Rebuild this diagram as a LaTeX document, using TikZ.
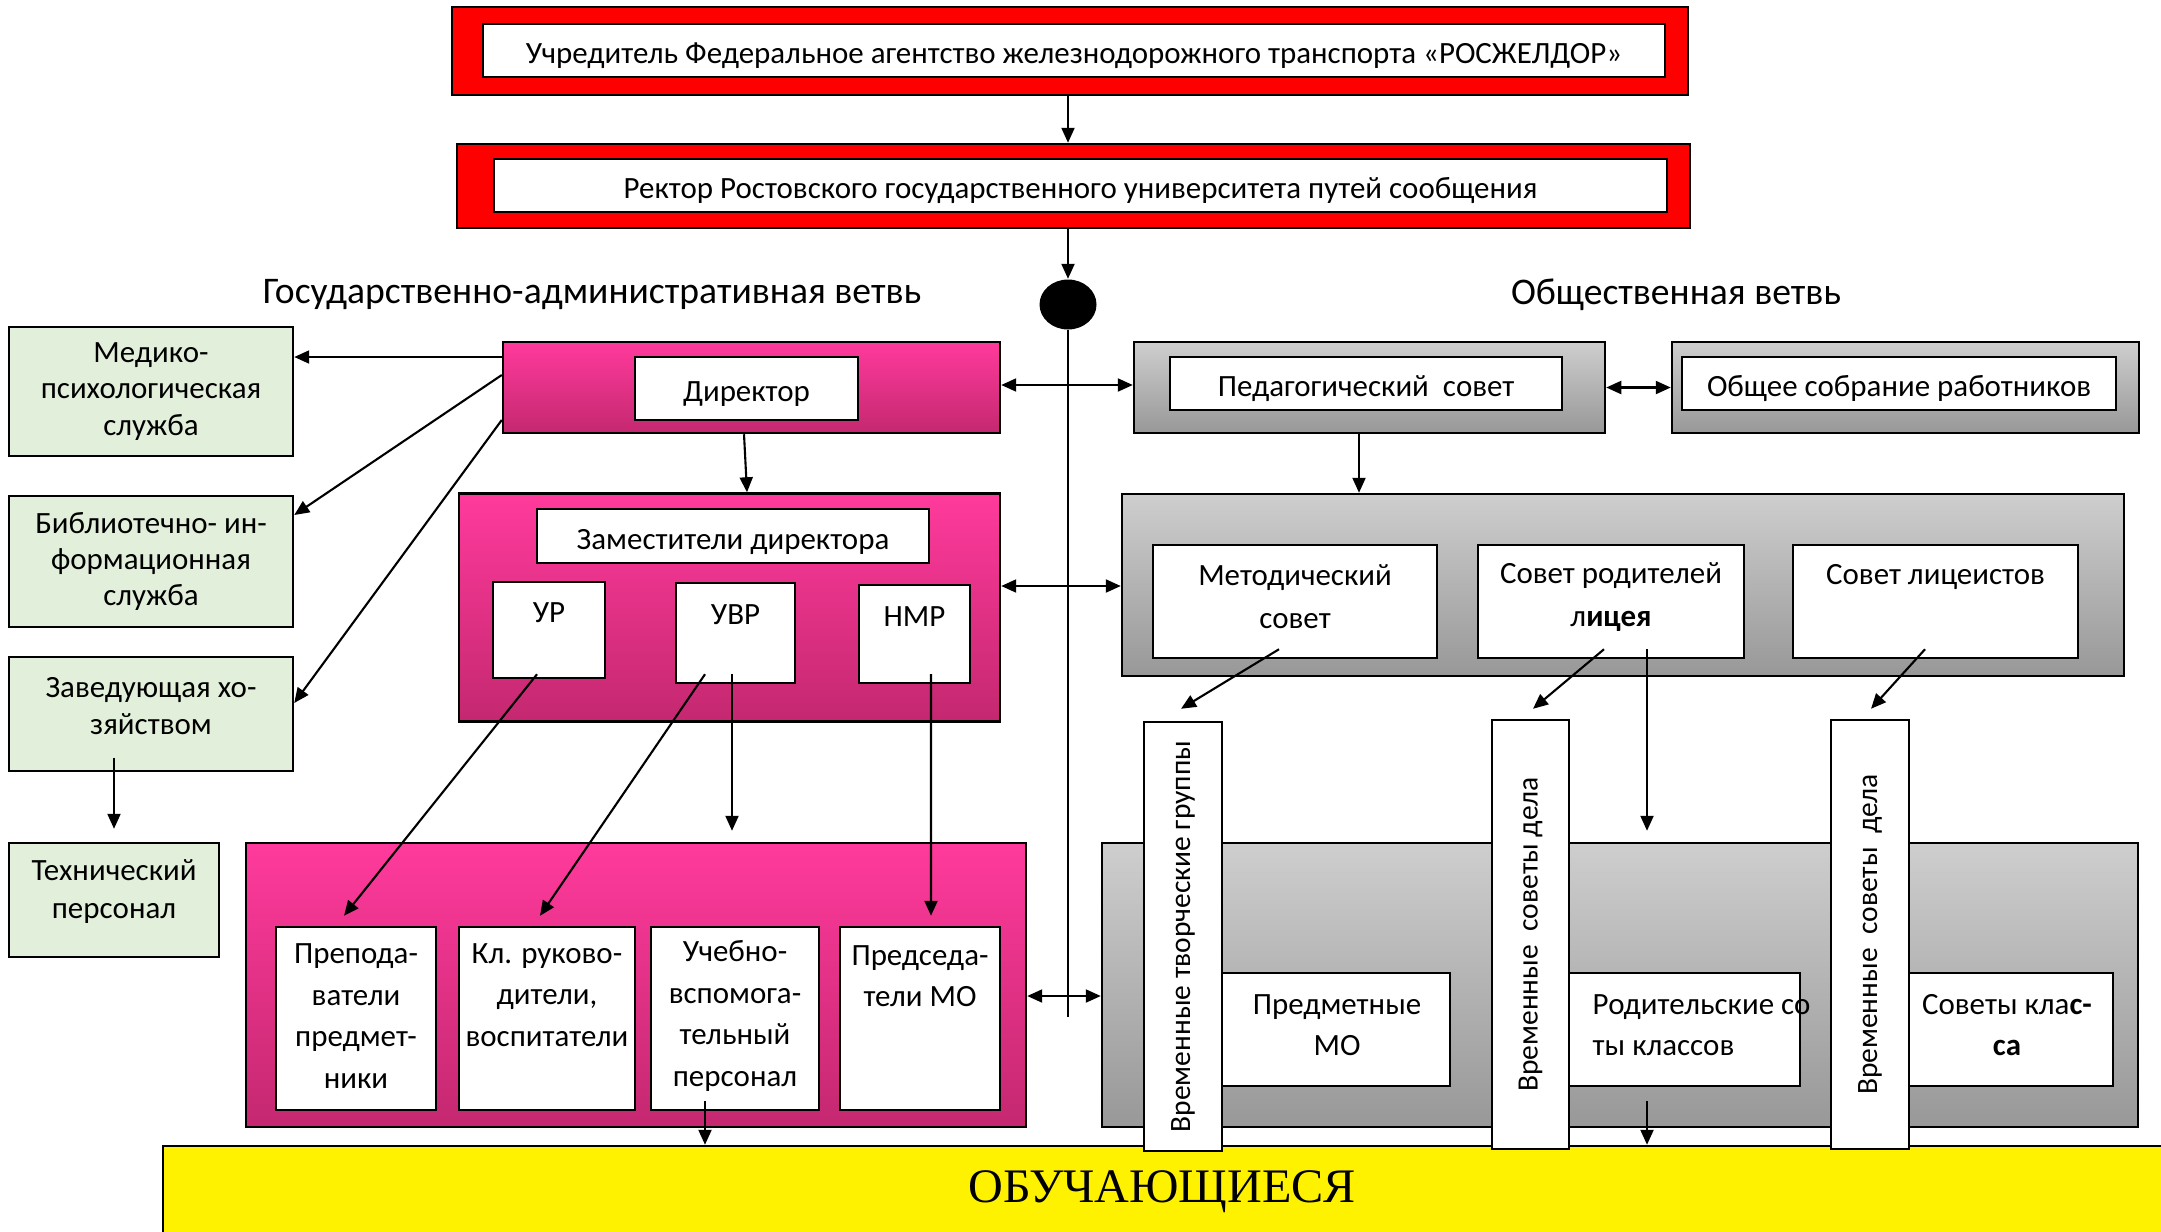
\documentclass[tikz,border=0pt]{standalone}
\usepackage{fontspec}
\setmainfont{Carlito}
\newfontfamily\timesfont{Liberation Serif}
\usetikzlibrary{arrows.meta,shapes.geometric}

\definecolor{rosred}{RGB}{255,0,0}
\definecolor{paleleaf}{RGB}{226,239,218}
\definecolor{pinktop}{RGB}{255,58,156}
\definecolor{pinkbot}{RGB}{196,40,112}
\definecolor{graytop}{RGB}{206,206,206}
\definecolor{graybot}{RGB}{152,152,152}

\tikzset{
  plate/.style={draw, line width=0.7pt, inner sep=0pt},
  redplate/.style={plate, fill=rosred},
  whiteplate/.style={plate, fill=white, align=center},
  greenplate/.style={plate, fill=paleleaf, align=center},
  pinkplate/.style={plate, top color=pinktop, bottom color=pinkbot},
  grayplate/.style={plate, top color=graytop, bottom color=graybot},
  yellowplate/.style={plate, fill=yellow},
  oneline/.style={text height=7.4pt, text depth=0pt},
  txt/.style={align=center, inner sep=0pt},
  loose/.style={font=\fontsize{8.8}{11.8}\selectfont},
  barfont/.style={font=\fontsize{8.4}{10}\selectfont},
  arr/.style={line width=0.6pt, -{Triangle[length=1.5mm,width=1.3mm]}},
  dblarr/.style={line width=0.6pt, {Triangle[length=1.5mm,width=1.3mm]}-{Triangle[length=1.5mm,width=1.3mm]}},
}

\begin{document}
\begin{tikzpicture}[x=0.1mm, y=-0.1mm, font=\fontsize{8.8}{10.3}\selectfont]
    \useasboundingbox (0,0) rectangle (2161,1231);

    % students
    \node[yellowplate, minimum width=201.2mm, minimum height=9.9mm] (obuch) at (1169,1195.5) {};
    \node[anchor=base, inner sep=0pt, font=\timesfont\fontsize{13.7}{16}\selectfont] (obucht) at (1162,1202) {ОБУЧАЮЩИЕСЯ};

    % founder and rector
    \node[redplate, minimum width=123.6mm, minimum height=8.8mm] (red1) at (1070,51) {};
    \node[whiteplate, oneline, minimum width=118.2mm, minimum height=5.3mm] (uchr) at (1074,50.5) {Учредитель Федеральное агентство железнодорожного транспорта «РОСЖЕЛДОР»};
    \node[redplate, minimum width=123.3mm, minimum height=8.4mm] (red2) at (1073.5,186) {};
    \node[whiteplate, oneline, minimum width=117.3mm, minimum height=5.3mm] (rektor) at (1080.5,185.5) {Ректор Ростовского государственного университета путей сообщения};
    \node[ellipse, fill=black, minimum width=5.7mm, minimum height=5mm, inner sep=0pt] (dot) at (1068,304.5) {};
    \coordinate (trunk) at (1068,1017);

    \node[font=\fontsize{10.7}{12}\selectfont] (gosbr) at (592,295) {Государственно-административная ветвь};
    \node[font=\fontsize{10.7}{12}\selectfont] (obbr) at (1676,295) {Общественная ветвь};

    % services on the left
    \node[greenplate, minimum width=28.4mm, minimum height=12.9mm] (med) at (151,391.5) {Медико-\\психологическая\\служба};
    \node[greenplate, minimum width=28.4mm, minimum height=13.1mm] (bib) at (151,561.5) {Библиотечно- ин-\\формационная\\служба};
    \node[greenplate, minimum width=28.4mm, minimum height=11.4mm] (zav) at (151,714) {};
    \node[txt] (zavt) at (151,706) {Заведующая хо-\\зяйством};
    \node[greenplate, minimum width=21mm, minimum height=11.4mm] (tech) at (114,900) {};
    \node[txt, font=\fontsize{8.8}{10.8}\selectfont] (techt) at (114,892) {Технический\\персонал};

    % administration
    \node[pinkplate, minimum width=49.7mm, minimum height=9.1mm] (dirbox) at (751.5,387.5) {};
    \node[whiteplate, oneline, minimum width=22.3mm, minimum height=6.3mm] (dir) at (746.5,388.5) {Директор};
    \node[pinkplate, minimum width=54.1mm, minimum height=22.8mm] (zambox) at (729.5,607.5) {};
    \node[whiteplate, oneline, minimum width=39.2mm, minimum height=5.4mm] (zam) at (733,536) {Заместители директора};
    \node[whiteplate, minimum width=11.2mm, minimum height=9.6mm] (ur) at (549,630) {};
    \node[txt] (urt) at (549,613) {УР};
    \node[whiteplate, minimum width=11.9mm, minimum height=10mm] (uvr) at (735.5,633) {};
    \node[txt] (uvrt) at (735.5,615) {УВР};
    \node[whiteplate, minimum width=11.1mm, minimum height=9.8mm] (nmr) at (914.5,634) {};
    \node[txt] (nmrt) at (914.5,617) {НМР};

    % staff
    \node[pinkplate, minimum width=78mm, minimum height=28.4mm] (staff) at (636,985) {};
    \node[whiteplate, minimum width=16mm, minimum height=18.3mm] (prep) at (356,1018.5) {};
    \node[txt, loose] (prept) at (356,1016) {Препода-\\ватели\\предмет-\\ники};
    \node[whiteplate, minimum width=17.6mm, minimum height=18.3mm] (kl) at (547,1018.5) {};
    \node[txt, loose] (klt) at (547,995) {Кл. руково-\\дители,\\воспитатели};
    \node[whiteplate, minimum width=16.8mm, minimum height=18.3mm] (ucheb) at (735,1018.5) {};
    \node[txt, loose] (ucht) at (735,1016) {Учебно-\\вспомога-\\тельный\\персонал};
    \node[whiteplate, minimum width=16mm, minimum height=18.3mm] (pred) at (920,1018.5) {};
    \node[txt, loose] (predt) at (920,976) {Председа-\\тели МО};

    % public branch
    \node[grayplate, minimum width=47.1mm, minimum height=9.1mm] (pedbox) at (1369.5,387.5) {};
    \node[whiteplate, oneline, minimum width=39.2mm, minimum height=5.3mm] (ped) at (1366,383.5) {Педагогический\ \ совет};
    \node[grayplate, minimum width=46.7mm, minimum height=9.1mm] (obbox) at (1905.5,387.5) {};
    \node[whiteplate, oneline, minimum width=43.4mm, minimum height=5.3mm] (ob) at (1899,383.5) {Общее собрание работников};
    \node[grayplate, minimum width=100.2mm, minimum height=18.2mm] (sovbox) at (1623,585) {};
    \node[whiteplate, minimum width=28.4mm, minimum height=11.3mm] (metod) at (1295,601.5) {};
    \node[txt, font=\fontsize{8.8}{12.2}\selectfont] (metodt) at (1295,597) {Методический\\совет};
    \node[whiteplate, minimum width=26.6mm, minimum height=11.3mm] (sovrod) at (1611,601.5) {};
    \node[txt, font=\fontsize{8.8}{12.2}\selectfont] (sovrodt) at (1611,597) {Совет родителей\\л\textbf{ицея}};
    \node[whiteplate, minimum width=28.5mm, minimum height=11.3mm] (sovlic) at (1935.5,601.5) {};
    \node[txt] (sovlict) at (1935.5,577) {Совет лицеистов};

    \node[grayplate, minimum width=103.6mm, minimum height=28.4mm] (mobox) at (1620,985) {};
    \node[whiteplate, minimum width=25mm, minimum height=11.3mm] (predmo) at (1325,1029.5) {};
    \node[txt, loose] (predmot) at (1337,1025) {Предметные\\МО};
    \node[whiteplate, minimum width=25mm, minimum height=11.3mm] (rodit) at (1675,1029.5) {};
    \node[txt, loose, align=left, anchor=west] (roditt) at (1592,1025) {Родительские со\\ты классов};
    \node[whiteplate, minimum width=22.3mm, minimum height=11.3mm] (sovkl) at (2001.5,1029.5) {};
    \node[txt, loose] (sovklt) at (2007,1025) {Советы кла\textbf{с-}\\\textbf{са}};

    \node[whiteplate, barfont, minimum width=7.8mm, minimum height=42.9mm] (bar1) at (1183,936.5) {\rotatebox{90}{Временные творческие группы}};
    \node[whiteplate, barfont, minimum width=7.7mm, minimum height=42.9mm] (bar2) at (1530.5,934.5) {\rotatebox{90}{Временные\ \ советы дела}};
    \node[whiteplate, barfont, minimum width=7.8mm, minimum height=42.9mm] (bar3) at (1870,934.5) {\rotatebox{90}{Временные\ \ советы\ \ дела}};

    % connectors
    \draw[arr] (red1.south -| dot) -- (red2.north -| dot);
    \draw[arr] (red2.south -| dot) -- (dot.north);
    \draw[line width=0.6pt] (dot.south) -- (trunk);

    \draw[arr] ([yshift=3.05mm]dirbox.west) -- ([yshift=3.05mm]dirbox.west -| med.east);
    \draw[arr] ([yshift=1.25mm]dirbox.west) -- ([yshift=4.65mm]bib.east);
    \draw[arr] ([yshift=-3.25mm]dirbox.west) -- ([yshift=1.1mm]zav.east);
    \draw[arr, shorten >=1.3mm] ([yshift=1.4mm]zav.south -| tech.north) -- (tech.north);
    \draw[arr] ([xshift=-0.75mm]dirbox.south) -- ([xshift=1.75mm]zambox.north);
    \draw[dblarr] ([yshift=0.25mm]dirbox.east) -- ([yshift=0.25mm]dirbox.east -| pedbox.west);
    \draw[dblarr] ([yshift=2.15mm]zambox.east) -- ([yshift=2.15mm]zambox.east -| sovbox.west);
    \draw[dblarr] ([yshift=-1.1mm]staff.east) -- ([yshift=-1.1mm]staff.east -| mobox.west);

    \draw[arr] ([xshift=-1.2mm,yshift=0.5mm]ur.south) -- ([xshift=-1.2mm,yshift=1mm]prep.north);
    \draw[arr] ([xshift=-3.05mm,yshift=1mm]uvr.south) -- ([xshift=-0.7mm,yshift=1mm]kl.north);
    \draw[arr, shorten >=1.1mm] ([xshift=-0.35mm,yshift=1mm]uvr.south) -- ([xshift=-0.35mm]uvr.south |- staff.north);
    \draw[arr] ([xshift=1.65mm,yshift=1mm]nmr.south) -- ([xshift=1.1mm,yshift=1mm]pred.north);
    \draw[arr] ([xshift=-3mm,yshift=1mm]ucheb.south) -- ([xshift=-3mm]ucheb.south |- obuch.north);

    \draw[dblarr] (pedbox.east) -- (obbox.west);
    \draw[arr] ([xshift=-1.05mm]pedbox.south) -- ([xshift=-1.05mm]pedbox.south |- sovbox.north);
    \draw[arr] ([xshift=-1.6mm,yshift=1mm]metod.south) -- ([xshift=-0.2mm,yshift=1.2mm]bar1.north);
    \draw[arr] ([xshift=-0.7mm,yshift=1mm]sovrod.south) -- ([xshift=0.25mm,yshift=1mm]bar2.north);
    \draw[arr, shorten >=1.1mm] ([xshift=3.6mm,yshift=1mm]sovrod.south) -- ([xshift=3.6mm]sovrod.south |- mobox.north);
    \draw[arr] ([xshift=-1.05mm,yshift=1mm]sovlic.south) -- ([xshift=0.1mm,yshift=1mm]bar3.north);
    \draw[arr] ([xshift=-2.8mm,yshift=-1.4mm]rodit.south) -- ([xshift=-2.8mm]rodit.south |- obuch.north);

\end{tikzpicture}
\end{document}
